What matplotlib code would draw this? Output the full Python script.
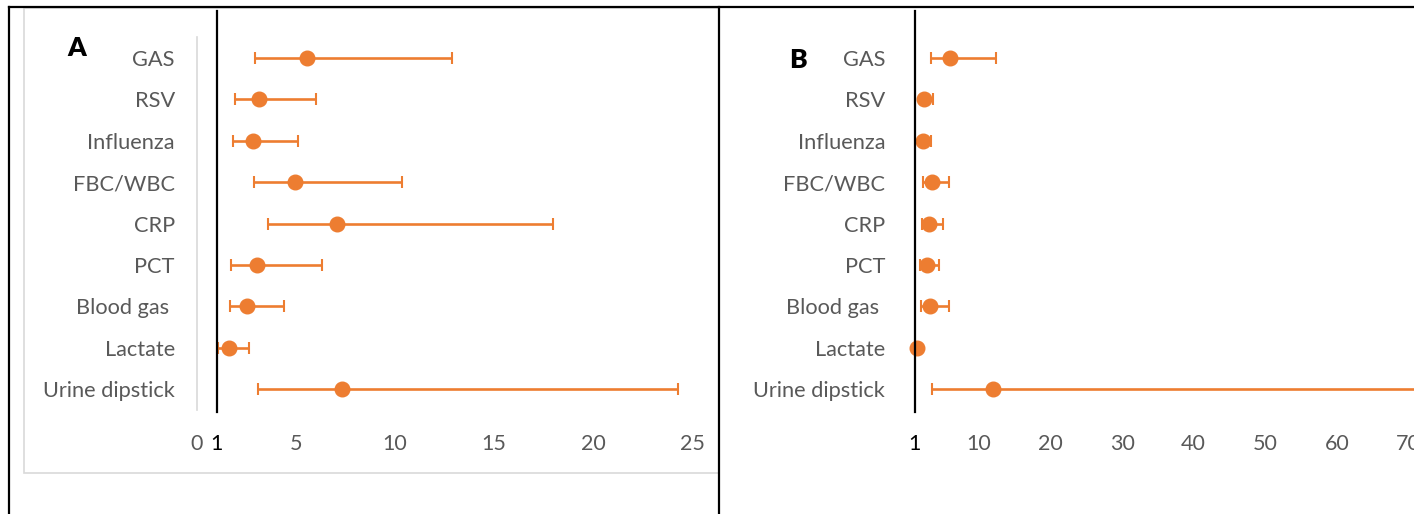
import matplotlib
matplotlib.use("Agg")
import matplotlib.pyplot as plt
from matplotlib.lines import Line2D
from matplotlib.patches import Rectangle
import numpy as np

plt.rcParams['font.family'] = ['Lato', 'DejaVu Sans']

categories = ["GAS", "RSV", "Influenza", "FBC/WBC", "CRP", "PCT",
              "Blood gas ", "Lactate", "Urine dipstick"]

# Panel A: odds ratio with lower / upper confidence limits
a_or = [5.54, 3.15, 2.84, 4.96, 7.06, 3.02, 2.54, 1.63, 7.31]
a_lo = [2.93, 1.92, 1.83, 2.89, 3.57, 1.70, 1.67, 1.06, 3.08]
a_hi = [12.9, 6.01, 5.10, 10.34, 18.0, 6.31, 4.39, 2.63, 24.3]

# Panel B
b_or = [5.95, 2.36, 2.20, 3.40, 3.00, 2.70, 3.15, 1.38, 11.9]
b_lo = [3.30, 1.90, 1.80, 2.20, 2.00, 1.76, 1.90, 1.10, 3.40]
b_hi = [12.4, 3.60, 3.25, 5.85, 5.00, 4.40, 5.85, 1.70, 80.0]

a_ticks = [0, 1, 5, 10, 15, 20, 25]
b_ticks = [1, 10, 20, 30, 40, 50, 60, 70]
ref_value = 1

ORANGE = '#ED7D31'
GREY_TXT = '#595959'
W, H = 1414, 514

fig = plt.figure(figsize=(W / 100, H / 100), dpi=100)
fig.patch.set_facecolor('white')

def px(x0, y0, w, h):
    return [x0 / W, 1 - (y0 + h) / H, w / W, h / H]

# light grey chart frame of panel A
fig.add_artist(Rectangle((24 / W, 1 - 473 / H), (719 - 24) / W, (473 - 8) / H,
                         transform=fig.transFigure, fill=False,
                         edgecolor='#D9D9D9', lw=1.2))

axA = fig.add_axes(px(197, 37, 495, 373))
axB = fig.add_axes(px(907.4, 37, 501, 373))

def draw(ax, orv, lo, hi, xmax, ticks, show_spine):
    y = np.arange(len(categories))
    orv = np.array(orv); lo = np.array(lo); hi = np.array(hi)
    ax.errorbar(orv, y, xerr=[orv - lo, hi - orv], fmt='o', color=ORANGE,
                ecolor=ORANGE, markersize=10.5, elinewidth=1.9, capsize=4.3,
                capthick=1.5, clip_on=False, zorder=3)
    ax.set_ylim(len(categories) - 0.5, -0.5)
    ax.set_xlim(0, xmax)
    ax.set_yticks(y)
    ax.set_yticklabels(categories, fontsize=15.7, color=GREY_TXT)
    ax.set_xticks(ticks)
    ax.set_xticklabels([str(t) for t in ticks], fontsize=15.5, color=GREY_TXT)
    for lab, t in zip(ax.get_xticklabels(), ticks):
        if t == ref_value:
            lab.set_color('black')
    ax.tick_params(axis='both', length=0)
    ax.tick_params(axis='y', pad=16)
    ax.tick_params(axis='x', pad=17)
    for s in ['top', 'right', 'bottom']:
        ax.spines[s].set_visible(False)
    ax.spines['left'].set_color('#D9D9D9')
    ax.spines['left'].set_linewidth(1.2)
    ax.spines['left'].set_visible(show_spine)
    ax.patch.set_alpha(0)
    ax.plot([ref_value, ref_value], [-0.005, 1.07], color='black', lw=1.6,
            transform=ax.get_xaxis_transform(), clip_on=False, zorder=4)

draw(axA, a_or, a_lo, a_hi, 25, a_ticks, True)
draw(axB, b_or, b_lo, b_hi, 70, b_ticks, False)

fig.text(77 / W, 1 - 48 / H, 'A', fontsize=19, fontweight='heavy',
         ha='center', va='center', color='black')
fig.text(798 / W, 1 - 60 / H, 'B', fontsize=19, fontweight='heavy',
         ha='center', va='center', color='black')

# black outer frame lines
for xs, ys in [([9, 9], [7, H]), ([9, W], [7, 7]), ([719, 719], [7, H])]:
    fig.add_artist(Line2D([x / W for x in xs], [1 - y / H for y in ys],
                          transform=fig.transFigure, color='black', lw=1.6))

fig.savefig('out.png', dpi=100)
